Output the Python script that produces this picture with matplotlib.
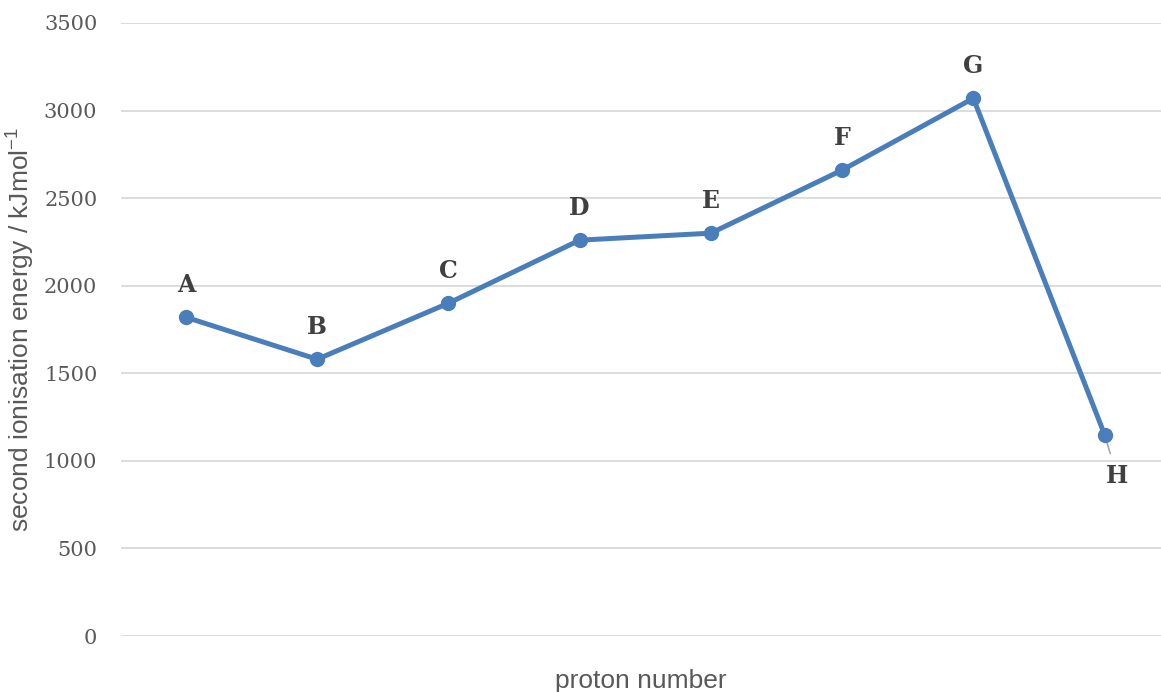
import numpy as np
import matplotlib.pyplot as plt

labels = ['A', 'B', 'C', 'D', 'E', 'F', 'G', 'H']
energy = [1820, 1580, 1900, 2260, 2300, 2660, 3070, 1150]
yticks = [0, 500, 1000, 1500, 2000, 2500, 3000, 3500]

plt.rcParams['mathtext.fontset'] = 'custom'
plt.rcParams['mathtext.rm'] = 'Liberation Sans'

fig = plt.figure(figsize=(11.61, 6.92), dpi=100)
ax = fig.add_axes([0.1042, 0.0809, 0.8958, 0.8859])

x = np.arange(len(labels))
ax.plot(x, energy, color='#4a7ebb', lw=3.6, marker='o', ms=10,
        solid_capstyle='round', zorder=3)

for i, (lab, v) in enumerate(zip(labels, energy)):
    if lab == 'H':
        ax.annotate(lab, (i, v), xytext=(9, -30), textcoords='offset points',
                    ha='center', va='center', fontsize=17, fontweight='bold',
                    family='DejaVu Serif', color='#404040',
                    arrowprops=dict(arrowstyle='-', color='#a6a6a6', lw=1.2,
                                    shrinkA=6, shrinkB=0), zorder=2)
    else:
        ax.annotate(lab, (i, v), xytext=(0, 23), textcoords='offset points',
                    ha='center', va='center', fontsize=17, fontweight='bold',
                    family='DejaVu Serif', color='#404040')

ax.set_xlim(-0.495, 7.43)
ax.set_ylim(0, 3500)
ax.set_yticks(yticks)
ax.set_xticks([])
for t in ax.get_yticklabels():
    t.set_family('DejaVu Serif')
ax.tick_params(axis='y', length=0, pad=17, labelsize=15, labelcolor='#595959')
ax.grid(axis='y', color='#d9d9d9', lw=1.3)
ax.set_axisbelow(True)
for s in ax.spines.values():
    s.set_visible(False)

ax.set_ylabel('second ionisation energy / kJmol$^{\\mathrm{-1}}$', fontsize=19,
              color='#595959', family='Liberation Sans', labelpad=6)
ax.set_xlabel('proton number', fontsize=19, color='#595959',
              family='Liberation Sans', labelpad=24)

fig.savefig('out.png', dpi=100)
